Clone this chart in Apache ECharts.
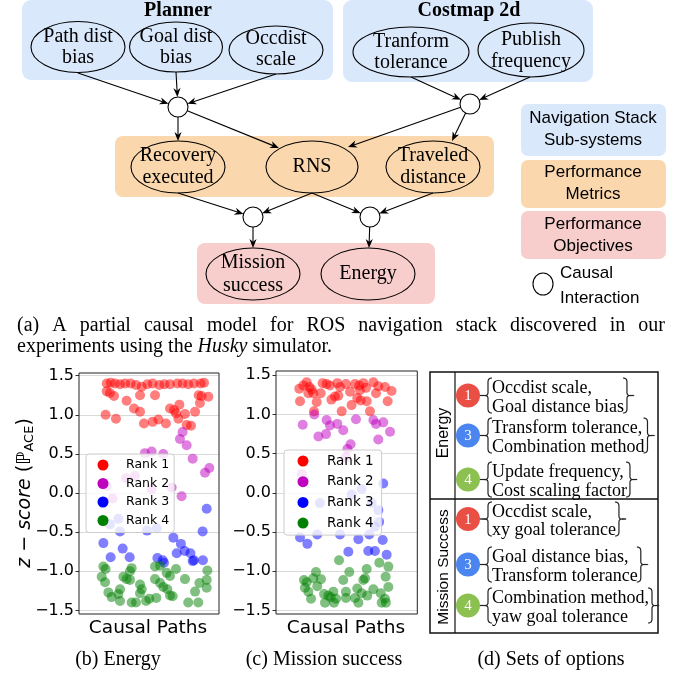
<!DOCTYPE html>
<html><head><meta charset="utf-8">
<script src="https://cdn.jsdelivr.net/npm/echarts@6/dist/echarts.min.js"></script>
<style>html,body{margin:0;padding:0;background:#fff}#c{width:683px;height:677px}</style>
</head><body><div id="c"></div>
<script>
// ---------- data ----------
const rankNames = ['Rank 1','Rank 2','Rank 3','Rank 4'];
const rankColors = ['#ff0000','#bf00bf','#0000ff','#008000'];
const yTickValues = [-1.5,-1.0,-0.5,0.0,0.5,1.0,1.5];

const energyRank1 = [[19.8,1.40],[22.6,1.41],[25.7,1.40],[29.3,1.39],[32.9,1.40],[36.9,1.40],[40.7,1.38],[44.8,1.36],[48.8,1.39],[52.6,1.40],[57.4,1.38],[61,1.39],[65,1.39],[70.2,1.40],[74,1.40],[78,1.39],[82.1,1.40],[86.9,1.40],[89.3,1.41],
 [19.8,1.30],[22.1,1.28],[25,1.24],[34,1.18],[39.3,1.08],[43.6,1.04],[43.6,1.25],[54.3,1.25],[19,1.00],[26.4,0.95],[46.4,0.89],[52.6,0.91],[56.7,0.94],[62.1,0.89],[65,1.08],[67.9,1.06],[71.7,1.13],[69.3,1.02],[71,0.95],[75.7,1.01],[76.9,0.87],[80,0.86],[82.9,1.04],[86.4,1.15],[85.5,1.25],[87.6,1.24],[92.4,1.23]];
const energyRank2 = [[74,0.78],[72.1,0.69],[76.9,0.61],[47.1,0.51],[51.9,0.53],[60.2,0.50],[81.2,0.44],[90,0.26],[93.1,0.32],[33.6,0.19],[40,0.22],[19.8,0.09],[24,-0.07],[51.9,0.05],[66.2,0.07],[73.3,-0.04]];
const energyRank3 = [[91.2,-0.20],[88.3,-0.49],[17.4,-0.64],[22.6,-0.82],[31.2,-0.71],[36.2,-0.82],[29.3,-0.49],[22.1,-0.40],[28.1,-0.33],[48.6,-0.48],[55.5,-0.45],[56,-0.83],[60.7,-0.89],[59.8,-0.86],[67.4,-0.57],[72.8,-0.65],[69.8,-0.77],[75.5,-0.74],[79.6,-0.77],[81.2,-0.87],[82.1,-0.86],[88.5,-0.86]];
const energyRank4 = [[17.4,-0.94],[19,-0.97],[16.2,-1.07],[18.6,-1.14],[21,-1.27],[23.3,-1.33],[29.3,-1.23],[28.1,-1.29],[29.3,-1.38],[37.6,-0.96],[36.4,-1.0],[31.7,-1.07],[34,-1.10],[36.4,-1.11],[43.6,-1.17],[44.8,-1.23],[43.6,-1.28],[37.6,-1.40],[40.7,-1.40],[47.9,-1.38],[50.2,-1.35],[55.2,-1.34],[54.3,-0.94],[57.9,-0.93],[62.6,-1.02],[69.3,-0.97],[65,-1.06],[54.3,-1.10],[57.9,-1.15],[60.2,-1.20],[63.1,-1.23],[65,-1.31],[66.9,-1.32],[75.7,-1.10],[78,-1.40],[82.9,-1.26],[86,-1.15],[91.7,-0.99],[91.2,-1.11],[91.2,-1.21],[85.2,-1.40]];

const missionRank1 = [[16.5,1.33],[19.3,1.37],[21.7,1.41],[23.6,1.35],[25.2,1.32],[22.9,1.27],[26.4,1.27],[31.6,1.27],[28.8,1.16],[17,1.17],[26.9,1.04],[33,1.40],[35.8,1.39],[38.2,1.37],[43.4,1.40],[45.3,1.35],[41.7,1.23],[39.2,1.19],[44.1,1.24],[49.5,1.39],[52.4,1.29],[55.9,1.39],[58.9,1.37],[61.8,1.40],[63.7,1.34],[59.4,1.31],[57.5,1.21],[59.9,1.18],[64.2,1.17],[53.5,1.12],[68.9,1.41],[72.4,1.36],[77.1,1.35],[70.8,1.27],[79,1.17],[81.8,1.30],[46.5,1.04],[66.5,1.04]];
const missionRank2 = [[18.9,0.87],[27.1,1.0],[35.8,0.93],[38.2,0.86],[43.4,0.88],[47.6,0.80],[30,0.72],[35.4,0.75],[56.6,0.94],[68.9,0.93],[70.8,0.88],[75.9,0.90],[80.7,0.78],[72.4,0.68],[52.8,0.62],[50.5,0.56],[49.5,0.45],[18.2,0.24]];
const missionRank3 = [[75.9,0.12],[60.6,0.05],[53.5,-0.02],[17,-0.57],[22.2,-0.65],[29.2,-0.53],[31.1,-0.13],[45.3,-0.53],[51.2,-0.75],[58.3,-0.59],[66,-0.53],[65.3,-0.74],[70,-0.74],[75.5,-0.60],[78.3,-0.79],[72.4,-0.22],[67.7,-0.13],[70,-0.43],[73,-0.37]];
const missionRank4 = [[44.6,-0.86],[28.3,-1.01],[26.4,-1.09],[21.7,-1.14],[19.8,-1.11],[31.8,-1.10],[20.5,-1.21],[22.9,-1.26],[29.2,-1.19],[24.8,-1.35],[34,-1.29],[34.7,-1.40],[37,-1.31],[38.7,-1.33],[40.6,-1.26],[42.5,-1.35],[41,-1.40],[47.6,-1.11],[51.9,-1.01],[49.5,-1.26],[49.5,-1.34],[55.9,-1.34],[57.5,-1.22],[58.3,-1.40],[61.8,-1.11],[63,-1.09],[64.2,-0.97],[60.6,-1.28],[64.6,-1.31],[68.9,-1.23],[73.1,-0.89],[79.5,-0.94],[77.6,-1.07],[79.5,-1.20],[74.1,-1.28],[77.1,-1.35],[74.8,-1.40],[77.8,-1.40]];

const energySeries = [energyRank1, energyRank2, energyRank3, energyRank4];
const missionSeries = [missionRank1, missionRank2, missionRank3, missionRank4];

// table (d) content
const tableGroups = ['Energy','Mission Success'];
const tableRanks = ['1','3','4','1','3','4'];
const tableLines = [
  ['Occdist scale,','Goal distance bias'],
  ['Transform tolerance,','Combination method'],
  ['Update frequency,','Cost scaling factor'],
  ['Occdist scale,','xy goal tolerance'],
  ['Goal distance bias,','Transform tolerance'],
  ['Combination method,','yaw goal tolerance']
];

// ---------- helpers ----------
const SERIF = '"Liberation Serif","Times New Roman",serif';
const SANS = '"Liberation Sans",Arial,sans-serif';
const MPL = '"DejaVu Sans",sans-serif';
const cv = document.createElement('canvas').getContext('2d');
function tw(t, font){ cv.font = font; return cv.measureText(t).width; }

const els = [];
function txt(x, y, t, o){
  o = o || {};
  const st = Object.assign({text:t, fill:'#000', fontSize:20, fontFamily:SERIF,
    align:o.align||'center', verticalAlign:'middle', textAlign:o.align||'center', textVerticalAlign:'middle'}, o.style||{});
  els.push({type:'text', x:x, y:y, rotation:o.rotation||0, z:10, style:st});
}
function rect(x,y,w,h,fill,r,stroke,lw){
  els.push({type:'rect', z:1, shape:{x:x,y:y,width:w,height:h,r:r||0}, style:{fill:fill, stroke:stroke||'none', lineWidth:lw||1}});
}
function ell(cx,cy,rx,ry){
  els.push({type:'ellipse', z:5, shape:{cx:cx,cy:cy,rx:rx,ry:ry}, style:{fill:'none', stroke:'#000', lineWidth:1.1}});
}
function circ(cx,cy,r){
  els.push({type:'circle', z:5, shape:{cx:cx,cy:cy,r:r}, style:{fill:'#fff', stroke:'#000', lineWidth:1.1}});
}
function arrow(x1,y1,x2,y2){
  const dx=x2-x1, dy=y2-y1, L=Math.hypot(dx,dy), ux=dx/L, uy=dy/L, nx=-uy, ny=ux;
  const hl=9, hw=3.6, nb=0.7;
  const bx=x2-ux*hl, by=y2-uy*hl, mx=x2-ux*hl*nb, my=y2-uy*hl*nb;
  els.push({type:'line', z:4, shape:{x1:x1,y1:y1,x2:mx,y2:my}, style:{stroke:'#000', lineWidth:1.1}});
  els.push({type:'polygon', z:4, shape:{points:[[x2,y2],[bx+nx*hw,by+ny*hw],[mx,my],[bx-nx*hw,by-ny*hw]]}, style:{fill:'#000'}});
}
function edgePt(cx,cy,r,fx,fy){ const dx=fx-cx, dy=fy-cy, L=Math.hypot(dx,dy); return [cx+dx/L*r, cy+dy/L*r]; }
function arrowToCircle(x1,y1,cx,cy,r){ const p=edgePt(cx,cy,r,x1,y1); arrow(x1,y1,p[0],p[1]); }
function arrowFromCircle(cx,cy,r,x2,y2){ const p=edgePt(cx,cy,r,x2,y2); arrow(p[0],p[1],x2,y2); }

// ---------- (a) diagram ----------
const BLUE='#dae8fc', ORANGE='#fad7ac', PINK='#f8cecc';
rect(22,0,311,80,BLUE,9);
rect(343,0,250,82,BLUE,9);
rect(115,136,379,61,ORANGE,8);
rect(197,243,238,61,PINK,8);
txt(178,11,'Planner',{style:{fontWeight:'bold',fontSize:20}});
txt(469,11,'Costmap 2d',{style:{fontWeight:'bold',fontSize:20}});

const nodes = [
  [78,47,47,25.5,['Path dist','bias'],[37,58]],
  [176,47,46.5,25,['Goal dist','bias'],[37,58]],
  [276,50,47,24,['Occdist','scale'],[39,60]],
  [411,52,58,25,['Tranform','tolerance'],[42,63]],
  [531,50,53,27,['Publish','frequency'],[40,62]],
  [178,167,47,26,['Recovery','executed'],[156,178]],
  [312,167,46,26,['RNS'],[167]],
  [433,167,47,26,['Traveled','distance'],[156,178]],
  [253,274,47,26,['Mission','success'],[263,286]],
  [368,274,47,26,['Energy'],[274]]
];
nodes.forEach(n=>{ ell(n[0],n[1],n[2],n[3]); n[4].forEach((t,i)=>txt(n[0],n[5][i],t,{style:{fontSize:20}})); });

const C1=[178,107], C2=[470,104], C3=[253,217], C4=[370,217], CR=10;
[C1,C2,C3,C4].forEach(c=>circ(c[0],c[1],CR));
arrowToCircle(78,73,C1[0],C1[1],CR);
arrowToCircle(176,72,C1[0],C1[1],CR);
arrowToCircle(276,74,C1[0],C1[1],CR);
arrowFromCircle(C1[0],C1[1],CR,178,141);
arrowFromCircle(C1[0],C1[1],CR,279,148);
arrowToCircle(411,77,C2[0],C2[1],CR);
arrowToCircle(530,77,C2[0],C2[1],CR);
arrowFromCircle(C2[0],C2[1],CR,348,147);
arrowFromCircle(C2[0],C2[1],CR,452,141);
arrowToCircle(178,193,C3[0],C3[1],CR);
arrowToCircle(312,193,C3[0],C3[1],CR);
arrowToCircle(312,193,C4[0],C4[1],CR);
arrowToCircle(433,193,C4[0],C4[1],CR);
arrowFromCircle(C3[0],C3[1],CR,253,248);
arrowFromCircle(C4[0],C4[1],CR,369,248);

// legend of diagram
rect(521,104,145,52,BLUE,7);
rect(521,160,145,48,ORANGE,7);
rect(521,211,145,48,PINK,7);
const lf={fontSize:17,fontFamily:SANS};
txt(593,118,'Navigation Stack',{style:lf}); txt(593,140,'Sub-systems',{style:lf});
txt(593,172,'Performance',{style:lf}); txt(593,194,'Metrics',{style:lf});
txt(593,224,'Performance',{style:lf}); txt(593,246,'Objectives',{style:lf});
els.push({type:'ellipse', z:5, shape:{cx:543,cy:284,rx:10,ry:11}, style:{fill:'#fff',stroke:'#000',lineWidth:1.1}});
txt(560,273,'Causal',{align:'left',style:lf});
txt(560,298,'Interaction',{align:'left',style:lf});

// caption (a), justified first line
const capFont = '20px "Liberation Serif"';
const capWords = '(a) A partial causal model for ROS navigation stack discovered in our'.split(' ');
const cw = capWords.map(w=>tw(w,capFont));
const capL=17, capR=665;
const gap = (capR-capL-cw.reduce((a,b)=>a+b,0))/(capWords.length-1);
let cx0=capL;
capWords.forEach((w,i)=>{ txt(cx0,326,w,{align:'left',style:{fontSize:20}}); cx0+=cw[i]+gap; });
txt(capL,347,'experiments using the {i|Husky} simulator.',{align:'left',style:{fontSize:20,rich:{i:{fontStyle:'italic',fontSize:20,fontFamily:SERIF,fill:'#000'}}}});

// ---------- (b),(c) scatter frames / labels ----------
const frames=[[79,373,140,241],[276,371,141.3,243]];
frames.forEach(f=>els.push({type:'rect', z:20, shape:{x:f[0],y:f[1],width:f[2],height:f[3]}, style:{fill:'none',stroke:'#222',lineWidth:1}}));
txt(148,628,'Causal Paths',{style:{fontSize:18.5,fontFamily:MPL}});
txt(346,628,'Causal Paths',{style:{fontSize:18.5,fontFamily:MPL}});
txt(25,493,'{it|z} − {it|score} (ℙ{sub|ACE})',{rotation:Math.PI/2,style:{fontSize:19,fontFamily:MPL,rich:{
  it:{fontStyle:'italic',fontSize:19,fontFamily:MPL,fill:'#000'},
  sub:{fontSize:13,fontFamily:MPL,fill:'#000',padding:[9,0,0,0]}}}});
txt(118,660,'(b) Energy',{style:{fontSize:20}});
txt(324,660,'(c) Mission success',{style:{fontSize:20}});
txt(551,660,'(d) Sets of options',{style:{fontSize:20}});

// ---------- (d) table ----------
const TL=430, TR=658, TT=372, TB=633, TM=499, TV=455;
els.push({type:'rect', z:6, shape:{x:TL,y:TT,width:TR-TL,height:TB-TT}, style:{fill:'none',stroke:'#111',lineWidth:1.5}});
els.push({type:'line', z:6, shape:{x1:TL,y1:TM,x2:TR,y2:TM}, style:{stroke:'#111',lineWidth:1.5}});
els.push({type:'line', z:6, shape:{x1:TV,y1:TT,x2:TV,y2:TB}, style:{stroke:'#111',lineWidth:1.2}});
txt(444,433,tableGroups[0],{rotation:Math.PI/2,style:{fontSize:16,fontFamily:SANS}});
txt(444,567,tableGroups[1],{rotation:Math.PI/2,style:{fontSize:15.5,fontFamily:SANS}});
const rowLineY=[[388,407],[428,447],[472,491],[512,530],[557,576],[598,617]];
const rankCircleColor={'1':'#ea4f45','3':'#4a85f0','4':'#8cc152'};
const tFont='18px "Liberation Serif"';
function qpts(p0,p1,p2,n){ const out=[]; for(let i=0;i<=n;i++){const t=i/n,a=(1-t)*(1-t),b=2*(1-t)*t,c=t*t; out.push([a*p0[0]+b*p1[0]+c*p2[0], a*p0[1]+b*p1[1]+c*p2[1]]);} return out; }
function bracePts(x,y1,y2,s){ // s=+1 left brace '{', s=-1 right brace '}'
  const m=(y1+y2)/2, r=4;
  let pts=[];
  pts=pts.concat(qpts([x+5*s,y1],[x+1*s,y1],[x+1*s,y1+r],6));
  pts=pts.concat(qpts([x+1*s,m-3],[x+1*s,m],[x-2*s,m],5));
  pts=pts.concat(qpts([x-2*s,m],[x+1*s,m],[x+1*s,m+3],5));
  pts=pts.concat(qpts([x+1*s,y2-r],[x+1*s,y2],[x+5*s,y2],6));
  return pts;
}
tableLines.forEach((lines,i)=>{
  const ly=rowLineY[i];
  const tx=492;
  const maxW=Math.max(...lines.map(t=>tw(t,tFont)));
  const y1=ly[0]-10, y2=ly[1]+6, mid=(y1+y2)/2;
  const xr=tx+maxW+4;
  els.push({type:'line', z:6, shape:{x1:478,y1:mid,x2:486,y2:mid}, style:{stroke:'#222',lineWidth:1.2}});
  els.push({type:'polyline', z:6, shape:{points:bracePts(487,y1,y2,1)}, style:{fill:'none',stroke:'#222',lineWidth:1.2}});
  els.push({type:'polyline', z:6, shape:{points:bracePts(xr,y1,y2,-1)}, style:{fill:'none',stroke:'#222',lineWidth:1.2}});
  els.push({type:'line', z:6, shape:{x1:xr+2,y1:mid,x2:xr+6,y2:mid}, style:{stroke:'#222',lineWidth:1.2}});
  els.push({type:'circle', z:7, shape:{cx:468,cy:mid,r:12}, style:{fill:rankCircleColor[tableRanks[i]]}});
  txt(468,mid+1,tableRanks[i],{style:{fontSize:15,fill:'#fff'}});
  lines.forEach((t,k)=>txt(tx,ly[k],t,{align:'left',style:{fontSize:18}}));
});

// ---------- chart ----------
function fmt(v){ const s=Math.abs(v).toFixed(1); return v<0?'\u2212'+s:s; }
const series=[];
[energySeries, missionSeries].forEach((arr,g)=>{
  arr.forEach((d,k)=>series.push({type:'scatter', name:rankNames[k], xAxisIndex:g, yAxisIndex:g, data:d,
    symbol:'circle', symbolSize:10, itemStyle:{color:rankColors[k], opacity:0.5}, emphasis:{disabled:true}, z:2}));
});
function legendCfg(left,top,pad,textPad,gapI,fs){
  return {orient:'vertical', left:left, top:top, padding:pad, itemGap:gapI, itemWidth:11, itemHeight:11,
    icon:'circle', backgroundColor:'rgba(255,255,255,0.8)', borderColor:'#cccccc', borderWidth:1, borderRadius:3,
    itemStyle:{opacity:1}, selectedMode:false,
    textStyle:{fontSize:fs, fontFamily:MPL, color:'#000', lineHeight:14, padding:[0,0,0,textPad]},
    data:rankNames.map((n,k)=>({name:n, itemStyle:{color:rankColors[k],opacity:1}}))};
}
const yAxisCfg = g=>({gridIndex:g, type:'value', min:yTickValues[0], max:yTickValues[yTickValues.length-1], interval:0.5,
  axisLine:{show:false}, axisTick:{show:true,length:3.5,lineStyle:{color:'#333'}},
  axisLabel:{margin:5, fontSize:16, fontFamily:MPL, color:'#000', formatter:fmt},
  splitLine:{show:true,lineStyle:{color:'#dadada',width:1}}});
const chart = echarts.init(document.getElementById('c'), null, {renderer:'canvas'});
chart.setOption({
  animation:false,
  backgroundColor:'#fff',
  grid:[{left:79,top:375.7,width:140,height:234.7},{left:276,top:375.3,width:141.3,height:235.2}],
  xAxis:[0,1].map(g=>({gridIndex:g,type:'value',min:0,max:100,show:false})),
  yAxis:[yAxisCfg(0), yAxisCfg(1)],
  legend:[legendCfg(86,454,[4,5,5,11.5],12.5,4.5,12.5), legendCfg(284,450,[4,8,5,13.5],13.5,6.7,13.5)],
  series:series,
  graphic:{elements:els}
});
</script></body></html>
